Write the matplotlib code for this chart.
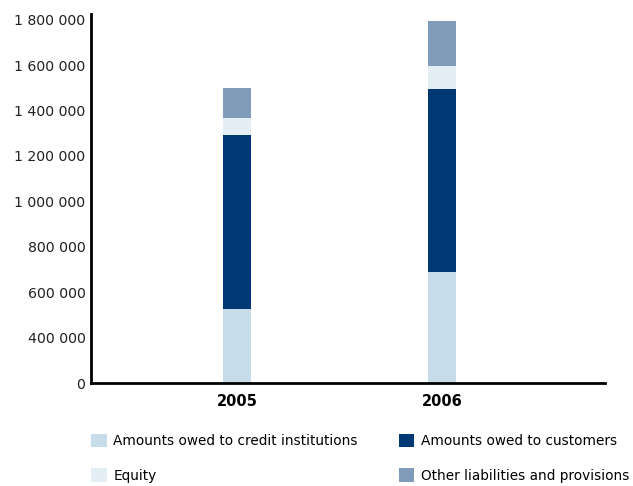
import matplotlib
matplotlib.use('Agg')
import matplotlib.pyplot as plt
from matplotlib.ticker import FixedLocator, FixedFormatter

# =========================================================
# data
# =========================================================
years = ['2005', '2006']
credit_institutions = [526000, 689000]
customers = [766000, 806000]
equity = [75000, 101000]
other_liabilities = [133000, 199000]

series_names = ['Amounts owed to credit institutions', 'Amounts owed to customers',
                'Equity', 'Other liabilities and provisions']
series_colors = ['#c6dce9', '#003876', '#e3eef5', '#819cbb']

# tick values as drawn (the lowest tick carries the label "0")
tick_values = [200000, 400000, 600000, 800000, 1000000, 1200000, 1400000, 1600000, 1800000]
tick_labels = ['0', '400 000', '600 000', '800 000', '1 000 000', '1 200 000',
               '1 400 000', '1 600 000', '1 800 000']

# =========================================================
# plotting
# =========================================================
plt.rcParams['font.family'] = 'DejaVu Sans'

fig = plt.figure(figsize=(6.33, 4.86), dpi=100)
ax = fig.add_axes([0.1438, 0.2119, 0.812, 0.7593])

x = range(len(years))
width = 0.137
bottom = [0, 0]
handles = []
for vals, name, col in zip([credit_institutions, customers, equity, other_liabilities],
                           series_names, series_colors):
    b = ax.bar(x, vals, width, bottom=bottom, color=col, label=name, linewidth=0)
    handles.append(b)
    bottom = [bo + v for bo, v in zip(bottom, vals)]

ax.set_xlim(-0.712, 1.795)
ax.set_ylim(200000, 1825000)
ax.yaxis.set_major_locator(FixedLocator(tick_values))
ax.yaxis.set_major_formatter(FixedFormatter(tick_labels))
ax.set_xticks(list(x))
ax.set_xticklabels(years, fontweight='bold', fontsize=10.5)
ax.tick_params(axis='y', length=0, labelsize=10.2, pad=4, labelcolor='#222222')
ax.tick_params(axis='x', length=0, pad=8)

for s in ['top', 'right']:
    ax.spines[s].set_visible(False)
for s in ['left', 'bottom']:
    ax.spines[s].set_linewidth(2)

# legend: column 1 credit/equity, column 2 customers/other
order = [0, 2, 1, 3]
fig.legend([handles[i] for i in order], [series_names[i] for i in order],
           ncol=2, loc='upper left', bbox_to_anchor=(0.1438, 0.108),
           frameon=False, fontsize=9.8, handlelength=1.15, handleheight=1.15,
           handletextpad=0.5, columnspacing=3.0, labelspacing=1.5, borderpad=0,
           borderaxespad=0)

plt.savefig('out.png', dpi=100)
